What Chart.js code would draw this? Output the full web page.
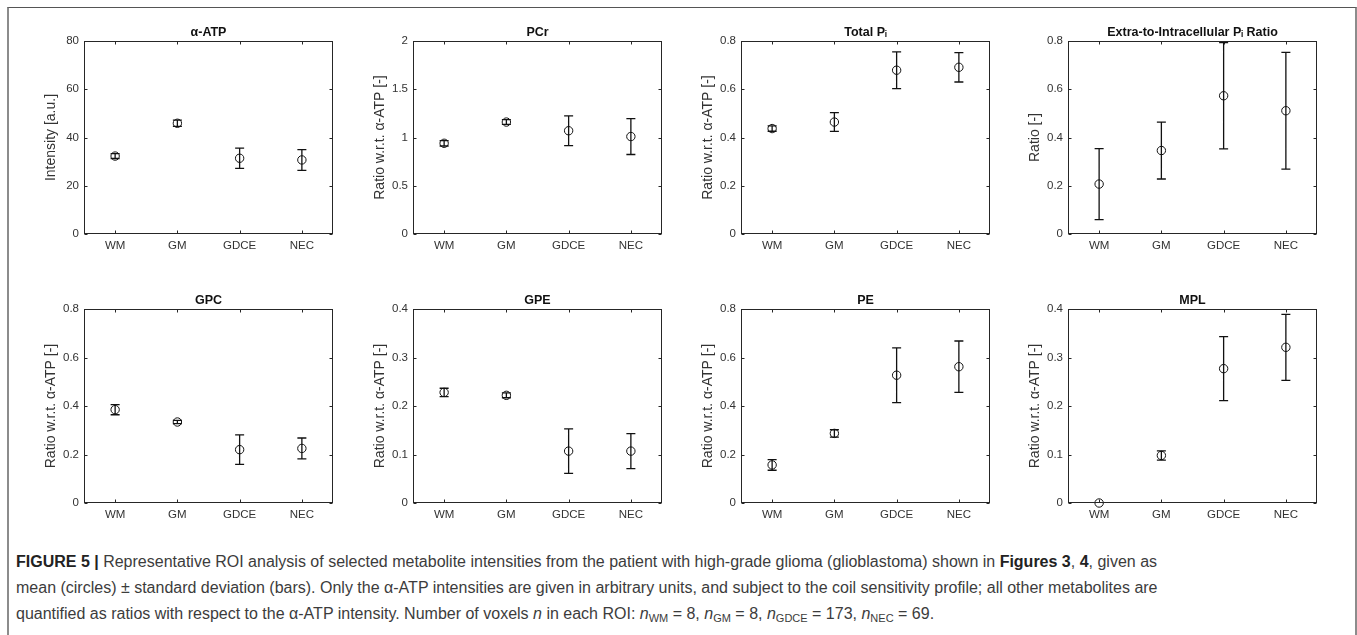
<!DOCTYPE html>
<html>
<head>
<meta charset="utf-8">
<script src="https://cdn.jsdelivr.net/npm/chart.js@4.4.1/dist/chart.umd.min.js"></script>
<style>
  body { margin: 0; background: #fff; width: 1357px; height: 635px; overflow: hidden; position: relative;
         font-family: 'Liberation Sans', Arial, sans-serif; }
  .frame { position: absolute; left: 7px; top: 7px; width: 1346px; height: 640px;
           border-left: 2px solid #8c8c8c; border-right: 2px solid #8c8c8c; border-top: 1px solid #555; }
  canvas { position: absolute; }
  .caption { position: absolute; left: 16px; top: 549px; font-size: 16px; line-height: 26px;
             color: #3c3c3c; white-space: nowrap; }
  .caption b { color: #222; }
  .caption sub { font-size: 11px; vertical-align: -3px; line-height: 0; }
</style>
</head>
<body>
<div class="frame"></div>
<div id="plots"></div>
<div class="caption">
<b>FIGURE 5 |</b> Representative ROI analysis of selected metabolite intensities from the patient with high-grade glioma (glioblastoma) shown in <b>Figures 3</b>, <b>4</b>, given as<br>
mean (circles) ± standard deviation (bars). Only the α-ATP intensities are given in arbitrary units, and subject to the coil sensitivity profile; all other metabolites are<br>
quantified as ratios with respect to the α-ATP intensity. Number of voxels <i>n</i> in each ROI: <i>n</i><sub>WM</sub> = 8, <i>n</i><sub>GM</sub> = 8, <i>n</i><sub>GDCE</sub> = 173, <i>n</i><sub>NEC</sub> = 69.
</div>

<script>
const categories = ['WM', 'GM', 'GDCE', 'NEC'];

// mean and standard deviation per ROI
const atpMean = [32.3, 45.9, 31.4, 30.7];
const atpSd = [1.0, 1.3, 4.2, 4.3];
const pcrMean = [0.94, 1.16, 1.07, 1.01];
const pcrSd = [0.028, 0.025, 0.155, 0.186];
const piMean = [0.437, 0.464, 0.679, 0.691];
const piSd = [0.011, 0.039, 0.076, 0.061];
const piRatioMean = [0.207, 0.346, 0.573, 0.511];
const piRatioSd = [0.147, 0.118, 0.220, 0.242];
const gpcMean = [0.385, 0.334, 0.220, 0.225];
const gpcSd = [0.021, 0.007, 0.061, 0.043];
const gpeMean = [0.228, 0.222, 0.107, 0.107];
const gpeSd = [0.0086, 0.005, 0.046, 0.036];
const peMean = [0.157, 0.287, 0.527, 0.562];
const peSd = [0.022, 0.015, 0.113, 0.106];
const mplMean = [0, 0.098, 0.277, 0.321];
const mplSd = [0, 0.0096, 0.066, 0.068];

const titles = ['α-ATP', 'PCr', 'Total Pᵢ', 'Extra-to-Intracellular Pᵢ Ratio', 'GPC', 'GPE', 'PE', 'MPL'];
const yLabels = ['Intensity [a.u.]', 'Ratio w.r.t. α-ATP [-]', 'Ratio w.r.t. α-ATP [-]', 'Ratio [-]',
  'Ratio w.r.t. α-ATP [-]', 'Ratio w.r.t. α-ATP [-]', 'Ratio w.r.t. α-ATP [-]', 'Ratio w.r.t. α-ATP [-]'];
const yMax = [80, 2, 0.8, 0.8, 0.8, 0.4, 0.8, 0.4];
const yStep = [20, 0.5, 0.2, 0.2, 0.2, 0.1, 0.2, 0.1];

const means = [atpMean, pcrMean, piMean, piRatioMean, gpcMean, gpeMean, peMean, mplMean];
const sds = [atpSd, pcrSd, piSd, piRatioSd, gpcSd, gpeSd, peSd, mplSd];

// plot box placement (pixels)
const plotLefts = [84, 413, 741, 1068];
const plotTops = [41, 309];
const plotHeights = [193, 194];
const plotWidth = 249;
const axisW = 60, titleH = 30, xAxisH = 25;

const ink = '#262626';
const textInk = '#333';

const boxAndErrors = {
  id: 'boxAndErrors',
  afterDatasetsDraw(chart, args, opts) {
    const { ctx, chartArea: a, scales: { x, y } } = chart;
    const L = Math.round(a.left) + 0.5, R = Math.round(a.right) - 0.5;
    const T = Math.round(a.top) + 0.5, B = Math.round(a.bottom) - 0.5;
    ctx.save();
    ctx.strokeStyle = ink;
    ctx.lineWidth = 1;
    ctx.strokeRect(L, T, R - L, B - T);

    // inward ticks on all four sides
    ctx.beginPath();
    categories.forEach((c, i) => {
      const px = Math.round(x.getPixelForValue(i)) + 0.5;
      ctx.moveTo(px, B); ctx.lineTo(px, B - 3);
      ctx.moveTo(px, T); ctx.lineTo(px, T + 3);
    });
    y.ticks.forEach(t => {
      const py = Math.round(y.getPixelForValue(t.value)) + 0.5;
      ctx.moveTo(L, py); ctx.lineTo(L + 3, py);
      ctx.moveTo(R, py); ctx.lineTo(R - 3, py);
    });
    ctx.stroke();

    // error bars
    const data = chart.data.datasets[0].data;
    ctx.lineWidth = 1.3;
    ctx.strokeStyle = '#111';
    ctx.beginPath();
    data.forEach((m, i) => {
      const sd = opts.sd[i];
      if (!sd) return;
      const px = x.getPixelForValue(i);
      const yt = y.getPixelForValue(m + sd);
      const yb = y.getPixelForValue(m - sd);
      ctx.moveTo(px, yt); ctx.lineTo(px, yb);
      ctx.moveTo(px - 4.5, yt); ctx.lineTo(px + 4.5, yt);
      ctx.moveTo(px - 4.5, yb); ctx.lineTo(px + 4.5, yb);
    });
    ctx.stroke();
    ctx.restore();
  }
};

const holder = document.getElementById('plots');

titles.forEach((title, k) => {
  const row = Math.floor(k / 4), col = k % 4;
  const canvas = document.createElement('canvas');
  // equal side margins (left axis + empty right axis) so the title centres over the plot box
  const w = axisW + plotWidth + axisW;
  const h = titleH + plotHeights[row] + xAxisH;
  canvas.width = w;
  canvas.height = h;
  canvas.style.left = (plotLefts[col] - axisW) + 'px';
  canvas.style.top = (plotTops[row] - titleH) + 'px';
  holder.appendChild(canvas);

  new Chart(canvas, {
    type: 'line',
    data: {
      labels: categories,
      datasets: [{
        data: means[k],
        showLine: false,
        clip: false,
        pointStyle: 'circle',
        pointRadius: 4.2,
        pointBorderWidth: 1,
        pointBorderColor: '#111',
        pointBackgroundColor: 'rgba(0,0,0,0)'
      }]
    },
    options: {
      responsive: false,
      animation: false,
      devicePixelRatio: 1,
      layout: { padding: 0 },
      scales: {
        x: {
          type: 'category',
          offset: true,
          grid: { display: false, drawTicks: false },
          border: { display: false },
          ticks: {
            padding: 5,
            color: textInk,
            font: { family: 'Liberation Sans, Arial', size: 11.5 }
          },
          afterFit: scale => { scale.height = xAxisH; }
        },
        y: {
          min: 0,
          max: yMax[k],
          grid: { display: false, drawTicks: false },
          border: { display: false },
          ticks: {
            stepSize: yStep[k],
            padding: 5,
            color: textInk,
            font: { family: 'Liberation Sans, Arial', size: 11.5 },
            callback: v => String(+v.toFixed(2))
          },
          title: {
            display: true,
            text: yLabels[k],
            color: textInk,
            padding: { top: 19, bottom: 0 },
            font: { family: 'Liberation Sans, Arial', size: 14, lineHeight: '16px' }
          },
          afterFit: scale => { scale.width = axisW; }
        },
        yRight: {
          position: 'right',
          grid: { display: false, drawTicks: false },
          border: { display: false },
          ticks: { display: false },
          afterFit: scale => { scale.width = axisW; }
        }
      },
      plugins: {
        legend: { display: false },
        tooltip: { enabled: false },
        title: {
          display: true,
          text: title,
          color: '#111',
          padding: { top: 14, bottom: 1 },
          font: { family: 'Liberation Sans, DejaVu Sans, Arial', size: 12.5, weight: 'bold', lineHeight: '15px' }
        },
        boxAndErrors: { sd: sds[k] }
      }
    },
    plugins: [boxAndErrors]
  });
});
</script>
</body>
</html>
